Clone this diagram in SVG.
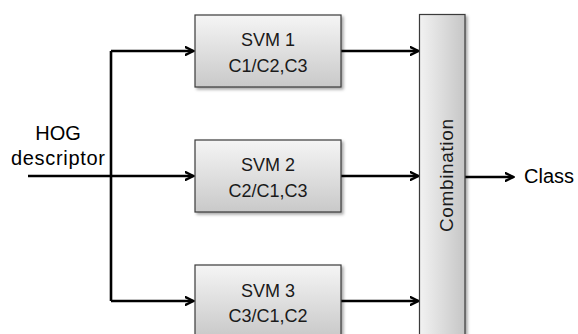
<svg xmlns="http://www.w3.org/2000/svg" width="578" height="334" viewBox="0 0 578 334">
  <style>
    .box { stroke: #3a3a3a; stroke-width: 1.2; filter: url(#shadow); }
    .svm { fill: url(#gradV); }
    .comb { fill: url(#gradH); }
    .lbl { font-family: "Liberation Sans", Arial, sans-serif; font-size: 18px; fill: #1a1a1a; text-anchor: middle; }
    .io { font-family: "Liberation Sans", Arial, sans-serif; font-size: 20px; fill: #000; }
    .wire { fill: none; stroke: #000; stroke-width: 2.6; }
    .arrow { marker-end: url(#chev); }
  </style>
  <defs>
    <linearGradient id="gradV" x1="0" y1="0" x2="0" y2="1">
      <stop offset="0" stop-color="#f5f5f5"/>
      <stop offset="1" stop-color="#c9c9c9"/>
    </linearGradient>
    <linearGradient id="gradH" x1="0" y1="0" x2="1" y2="0">
      <stop offset="0" stop-color="#f2f2f2"/>
      <stop offset="1" stop-color="#c6c6c6"/>
    </linearGradient>
    <filter id="shadow" x="-20%" y="-20%" width="140%" height="140%">
      <feDropShadow dx="2" dy="2" stdDeviation="1.5" flood-color="#000" flood-opacity="0.35"/>
    </filter>
    <marker id="chev" viewBox="0 0 10 10" refX="9" refY="5" markerWidth="10" markerHeight="10" markerUnits="userSpaceOnUse" orient="auto">
      <path d="M0,0.6 L9,5 L0,9.4" fill="none" stroke="#000" stroke-width="2.4"/>
    </marker>
  </defs>

  <g id="connectors">
    <path class="wire" d="M28,176 H111"/>
    <path class="wire" d="M111,51 V301"/>
    <path class="wire arrow" d="M111,51 H193.5"/>
    <path class="wire arrow" d="M111,176 H193.5"/>
    <path class="wire arrow" d="M111,301 H193.5"/>
    <path class="wire arrow" d="M341,51 H418.5"/>
    <path class="wire arrow" d="M341,176 H418.5"/>
    <path class="wire arrow" d="M341,301 H418.5"/>
    <path class="wire arrow" d="M465,177 H513.5"/>
  </g>

  <g id="input">
    <text class="io" x="58" y="140" text-anchor="middle">HOG</text>
    <text class="io" x="58" y="165" text-anchor="middle" textLength="94">descriptor</text>
  </g>

  <g id="svm1">
    <rect class="box svm" x="195" y="15" width="146" height="72"/>
    <text class="lbl" x="268" y="46">SVM 1</text>
    <text class="lbl" x="268" y="71.5">C1/C2,C3</text>
  </g>

  <g id="svm2">
    <rect class="box svm" x="195" y="140" width="146" height="72"/>
    <text class="lbl" x="268" y="171">SVM 2</text>
    <text class="lbl" x="268" y="196.5">C2/C1,C3</text>
  </g>

  <g id="svm3">
    <rect class="box svm" x="195" y="265" width="146" height="72"/>
    <text class="lbl" x="268" y="296.5">SVM 3</text>
    <text class="lbl" x="268" y="321.5">C3/C1,C2</text>
  </g>

  <g id="combination">
    <rect class="box comb" x="419.5" y="14.5" width="45.5" height="330"/>
    <text class="lbl" x="0" y="0" font-size="19" textLength="113" transform="translate(453,175.5) rotate(-90)" style="font-size:19px">Combination</text>
  </g>

  <g id="output">
    <text class="io" x="524" y="183">Class</text>
  </g>
</svg>
